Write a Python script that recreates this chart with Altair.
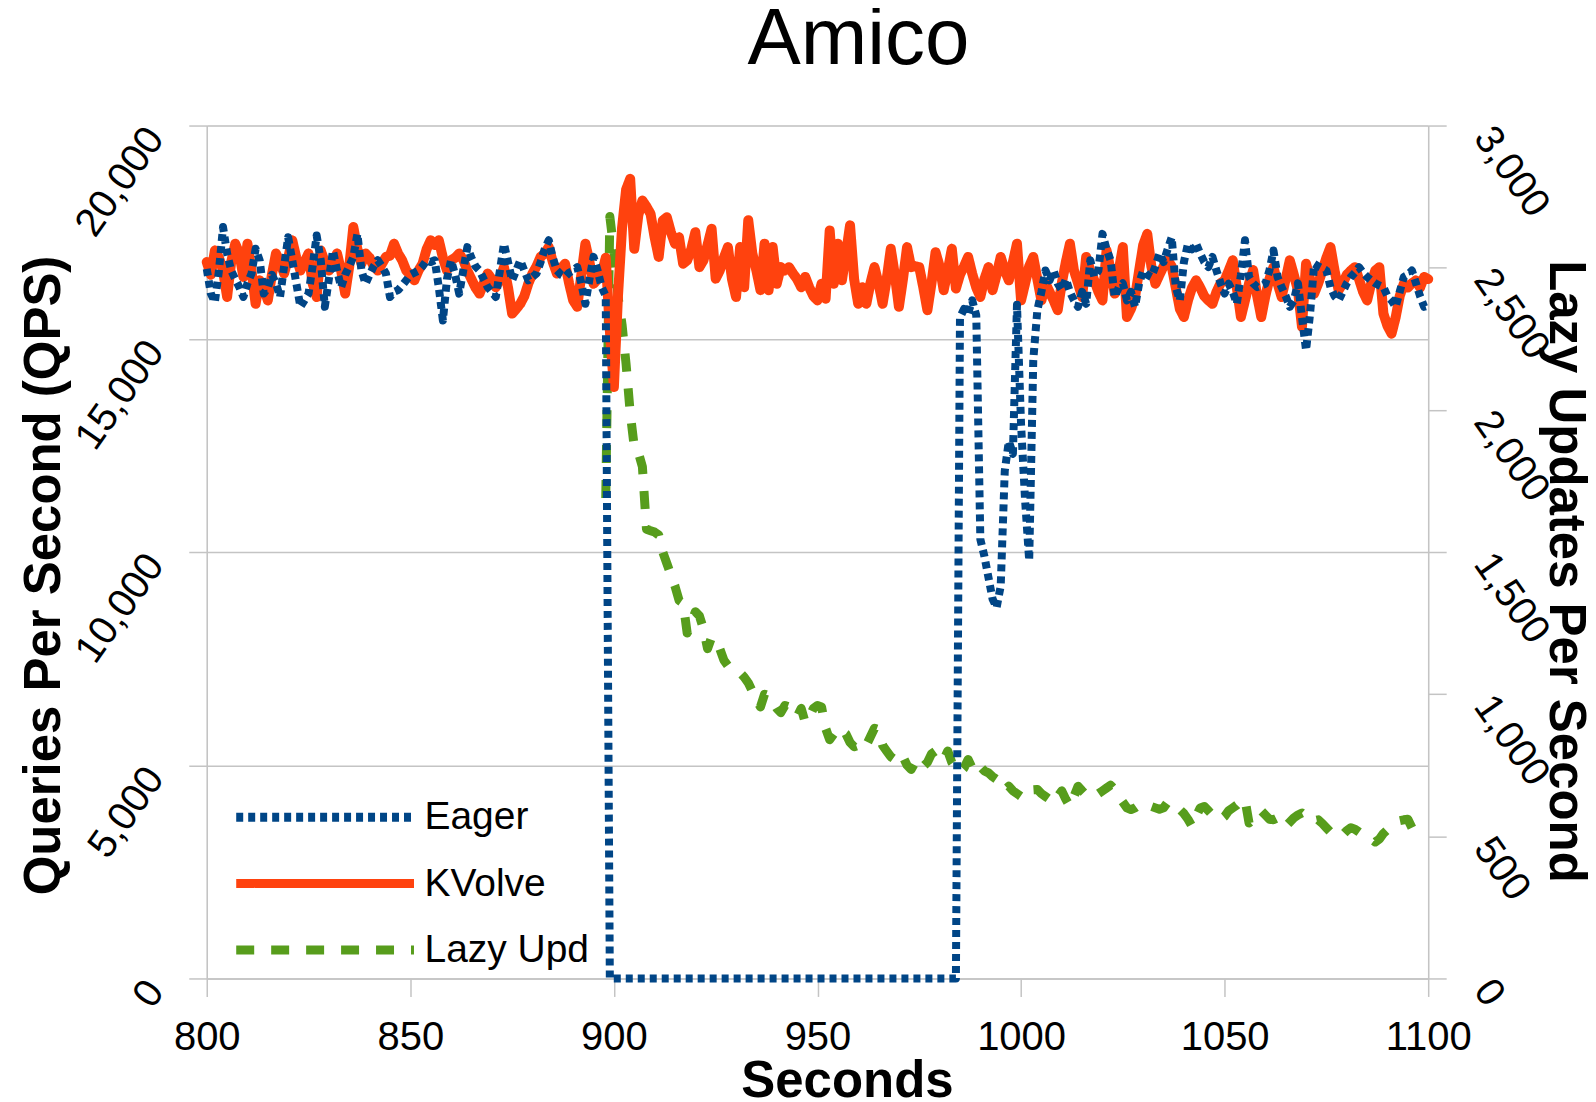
import altair as alt
import pandas as pd

# ---------------- data ----------------
series_names = ["Eager", "KVolve", "Lazy Upd"]
series_colors = ["#004586", "#ff420e", "#579d1c"]
series_dash = [[7, 5], [1, 0], [18, 17]]

x_ticks = [800, 850, 900, 950, 1000, 1050, 1100]
qps_ticks = [0, 5000, 10000, 15000, 20000]
lazy_ticks = [0, 500, 1000, 1500, 2000, 2500, 3000]

kvolve_sec = list(range(800, 1101))
kvolve_qps = [
    16800, 16500, 17070, 16900, 16600, 15980, 16800, 17230, 17000, 16450,
    17230, 16600, 15820, 16370, 16200, 15900, 16500, 17000, 16800, 16530,
    16900, 17310, 16900, 16600, 16800, 17000, 16300, 15980, 17070, 16800,
    16600, 16800, 17000, 16600, 16060, 16700, 17620, 17100, 16760, 17000,
    16900, 16700, 16600, 16750, 16920, 16950, 17230, 17000, 16840, 16600,
    16500, 16370, 16600, 16760, 17100, 17310, 17200, 17310, 16900, 16600,
    16840, 16900, 17000, 16850, 16600, 16400, 16200, 16060, 16300, 16530,
    16400, 16210, 16400, 16680, 16200, 15590, 15700, 15820, 16000, 16300,
    16530, 16700, 16920, 17000, 17150, 16800, 16530, 16650, 16760, 16300,
    15900, 15750, 16500, 17230, 16800, 16290, 16400, 16530, 16900, 15200,
    13870, 16000, 17600, 18500, 18750, 17110, 17900, 18240, 18100, 17930,
    17380, 16920, 17770, 17850, 17500, 17230, 17380, 16760, 16840, 17100,
    17500, 16680, 16840, 17200, 17580, 16410, 16600, 16900, 17150, 16400,
    15980, 17150, 16210, 17780, 17000, 16600, 16140, 17230, 16140, 17150,
    16290, 16680, 16600, 16680, 16530, 16400, 16210, 16450, 16200, 16000,
    15900, 16290, 15940, 17540, 16290, 17230, 16370, 17000, 17660, 16400,
    15820, 16210, 15820, 16300, 16680, 16300, 15820, 16400, 17110, 16500,
    15750, 16400, 17150, 16680, 16700, 16680, 16200, 15670, 16300, 17030,
    16700, 16140, 16600, 17110, 16180, 16500, 16700, 16920, 16530, 16200,
    15980, 16400, 16680, 16140, 16500, 16920, 16600, 16370, 16800, 17230,
    15900, 16300, 16700, 16920, 16400, 15900, 16300, 16100, 15900, 15670,
    16300, 16800, 17230, 16600, 16300, 15980, 16920, 16600, 16370, 16100,
    15900, 17070, 16600, 16060, 16600, 17150, 15510, 15700, 15980, 16600,
    17200, 17460, 16700, 16290, 16500, 16700, 16840, 16700, 16200, 15700,
    15510, 15900, 16200, 16370, 16200, 16000, 15900, 15820, 16100, 16300,
    16370, 16600, 16840, 16200, 15510, 15900, 16300, 16610, 16000, 15510,
    16000, 16400, 16680, 16300, 15980, 16400, 16840, 16500, 16140, 15280,
    16760, 16400, 16060, 16300, 16600, 16900, 17150, 16600, 16140, 16300,
    16500, 16600, 16680, 16400, 16100, 15900, 16300, 16600, 16680, 15590,
    15300, 15120, 15500, 16000, 16290, 16200, 16300, 16370, 16200, 16450,
    16400,
]

eager_sec = list(range(800, 899)) + [899, 984] + list(range(985, 1101))
eager_qps = [
    16640, 16060, 15860, 16600, 17620, 17000, 16600, 16400, 16210, 15980,
    16300, 16530, 17110, 16840, 16060, 16200, 16500, 16300, 15980, 16700,
    17380, 16840, 16300, 15750, 15900, 16060, 16700, 17420, 16840, 15750,
    16400, 17070, 16600, 16210, 16500, 16700, 16920, 17460, 16600, 16290,
    16500, 16700, 16840, 16700, 16530, 15980, 16100, 16140, 16250, 16370,
    16500, 16550, 16600, 16700, 16840, 16800, 16840, 16200, 15430, 16400,
    16840, 16500, 16060, 16600, 17150, 16900, 16700, 16600, 16400, 16210,
    16100, 15980, 16600, 17230, 16800, 16370, 16600, 16840, 16600, 16370,
    16450, 16530, 16800, 17100, 17310, 16900, 16600, 16500, 16450, 16550,
    16600, 16680, 16300, 15820, 16400, 16920, 16600, 16210, 16000,
    0, 0,
    15500, 15700, 15600, 15900, 15550,
    10300, 9900, 9400, 8900, 8700, 9200, 11900, 12600, 12300, 15800,
    13000, 11200, 9800, 14500, 15670, 16100, 16600, 16370, 16600, 16300,
    16140, 16400, 16100, 15900, 15750, 16100, 15820, 16840, 16450, 16600,
    17460, 17100, 16840, 15980, 16200, 16300, 15900, 16100, 15750, 16300,
    16600, 16500, 16450, 16700, 17000, 16800, 17100, 17380, 16210, 15900,
    16800, 17230, 17100, 17230, 17000, 16800, 16680, 16920, 16600, 16300,
    16060, 16290, 16100, 15820, 16500, 17310, 16450, 16300, 16210, 16250,
    16290, 16600, 17070, 16450, 16210, 16000, 15750, 15900, 16300, 15500,
    14730, 15600, 16760, 16700, 16650, 16600, 16210, 16000, 15900, 16100,
    16300, 16450, 16550, 16680, 16550, 16450, 16370, 16300, 16250, 16210,
    16000, 15900, 15750, 16100, 16450, 16500, 16600, 16300, 16000, 15750,
    15780,
]

lazy_sec = list(range(898, 1097))
lazy_ups = [
    1690, 2680,
    2560, 2400, 2300, 2160, 1990, 1870, 1850, 1800, 1580, 1575,
    1570, 1560, 1500, 1460, 1420, 1380, 1330, 1320, 1215, 1250,
    1290, 1275, 1230, 1160, 1200, 1180, 1160, 1120, 1100, 1095,
    1085, 1075, 1060, 1040, 1010, 980, 955, 1000, 995, 975,
    950, 935, 960, 955, 945, 920, 950, 900, 920, 950,
    960, 955, 880, 840, 860, 880, 870, 860, 830, 815,
    820, 805, 820, 850, 880, 875, 820, 800, 780, 770,
    790, 780, 750, 735, 760, 770, 746, 760, 790, 800,
    780, 770, 800, 760, 740, 725, 740, 770, 740, 760,
    745, 730, 723, 710, 700, 690, 664, 676, 660, 650,
    640, 655, 670, 664, 665, 650, 640, 630, 617, 640,
    660, 630, 605, 640, 676, 660, 645, 640, 640, 650,
    660, 670, 680, 664, 640, 620, 600, 594, 600, 610,
    615, 610, 605, 600, 595, 600, 620, 610, 600, 594,
    580, 560, 535, 570, 600, 605, 590, 575, 565, 558,
    570, 590, 600, 610, 625, 629, 547, 560, 580, 590,
    575, 560, 558, 565, 545, 535, 550, 565, 575, 582,
    570, 560, 555, 558, 545, 530, 515, 505, 500, 505,
    520, 530, 525, 515, 505, 500, 490, 480, 490, 510,
    523, 535, 545, 555, 558, 560, 530,
]

assert len(kvolve_sec) == len(kvolve_qps), (len(kvolve_sec), len(kvolve_qps))
assert len(eager_sec) == len(eager_qps), (len(eager_sec), len(eager_qps))
assert len(lazy_sec) == len(lazy_ups), (len(lazy_sec), len(lazy_ups))

df_kv = pd.DataFrame({"t": kvolve_sec, "v": kvolve_qps, "series": "KVolve"})
df_eager = pd.DataFrame({"t": eager_sec, "v": eager_qps, "series": "Eager"})
df_lazy = pd.DataFrame({"t": lazy_sec, "v": lazy_ups, "series": "Lazy Upd"})

FONT = "Liberation Sans"
AX = "#c4c4c4"

legend = alt.Legend(
    title=None, orient="none", legendX=99, legendY=673,
    symbolType="M-8,0H8", symbolSize=495, symbolStrokeWidth=9,
    labelFontSize=39, labelFont=FONT, labelColor="black",
    labelOffset=80, rowPadding=26.5, padding=0, labelLimit=500,
    symbolOffset=0,
)
color = alt.Color("series:N",
                  scale=alt.Scale(domain=series_names, range=series_colors),
                  legend=legend)
dash = alt.StrokeDash("series:N",
                      scale=alt.Scale(domain=series_names, range=series_dash),
                      legend=legend)

x_scale = alt.Scale(domain=[800, 1100], nice=False, zero=False)

x_axis = alt.Axis(
    values=x_ticks, title="Seconds", labelFontSize=40, labelFont=FONT,
    labelColor="black", labelPadding=21, tickSize=18, labelAngle=0,
    grid=False, titleFont=FONT, titleFontSize=51, titleFontWeight="bold",
    titleColor="black", titleX=641, titleY=118, titleAlign="center",
    titleBaseline="alphabetic", titleAngle=0, labelFlush=False,
    domainColor=AX, tickColor=AX, domainWidth=1.5, tickWidth=1.5,
    orient="bottom", format="d",
)
x_enc = alt.X("t:Q", scale=x_scale, axis=x_axis)

left_axis = alt.Axis(
    values=qps_ticks, format=",d", title="Queries Per Second (QPS)",
    labelAngle=305, labelAlign="right", labelBaseline="middle",
    labelPadding=34, labelOffset=6, labelFontSize=40, labelFont=FONT,
    labelColor="black", tickSize=18, grid=True, gridColor=AX, gridWidth=1.5,
    domainColor=AX, tickColor=AX, domainWidth=1.5, tickWidth=1.5,
    titleFont=FONT, titleFontSize=51, titleFontWeight="bold",
    titleColor="black", titleAngle=270, titleX=-147, titleY=450,
    titleAlign="center", titleBaseline="alphabetic", orient="left",
    labelFlush=False, labelOverlap=False, labelBound=False,
)
right_axis = alt.Axis(
    values=lazy_ticks, format=",d", title="Lazy Updates Per Second",
    labelAngle=55, labelAlign="left", labelBaseline="middle",
    labelPadding=36, labelOffset=5, labelFontSize=40, labelFont=FONT,
    labelColor="black", tickSize=18, grid=False,
    domainColor=AX, tickColor=AX, domainWidth=1.5, tickWidth=1.5,
    titleFont=FONT, titleFontSize=51, titleFontWeight="bold",
    titleColor="black", titleAngle=90, titleX=121, titleY=446,
    titleAlign="center", titleBaseline="alphabetic", orient="right",
    labelFlush=False, labelOverlap=False, labelBound=False,
)

lazy_layer = alt.Chart(df_lazy).mark_line(
    strokeWidth=9, strokeCap="butt", strokeJoin="round"
).encode(
    x=x_enc,
    y=alt.Y("v:Q", scale=alt.Scale(domain=[0, 3000], nice=False), axis=right_axis),
    color=color, strokeDash=dash,
)

kv_layer = alt.Chart(df_kv).mark_line(
    strokeWidth=10, strokeCap="round", strokeJoin="round"
).encode(
    x=x_enc,
    y=alt.Y("v:Q", scale=alt.Scale(domain=[0, 20000], nice=False), axis=left_axis),
    color=color, strokeDash=dash,
)

eager_layer = alt.Chart(df_eager).mark_line(
    strokeWidth=8, strokeCap="butt", strokeJoin="round"
).encode(
    x=x_enc,
    y=alt.Y("v:Q", scale=alt.Scale(domain=[0, 20000], nice=False), axis=None),
    color=color, strokeDash=dash,
)

chart = alt.layer(lazy_layer, kv_layer, eager_layer).resolve_scale(
    y="independent"
).properties(
    width=1223, height=854,
    padding={"left": 199, "top": 117, "right": 160, "bottom": 125},
    autosize=alt.AutoSizeParams(type="none"),
    title=alt.TitleParams(
        "Amico", fontSize=80, font=FONT, fontWeight="normal", color="black",
        anchor="middle", dx=41, dy=25, offset=0, baseline="alphabetic",
    ),
).configure_view(stroke=None).configure(background="white")

chart.save("out.html", embed_options={"renderer": "svg", "actions": False})
